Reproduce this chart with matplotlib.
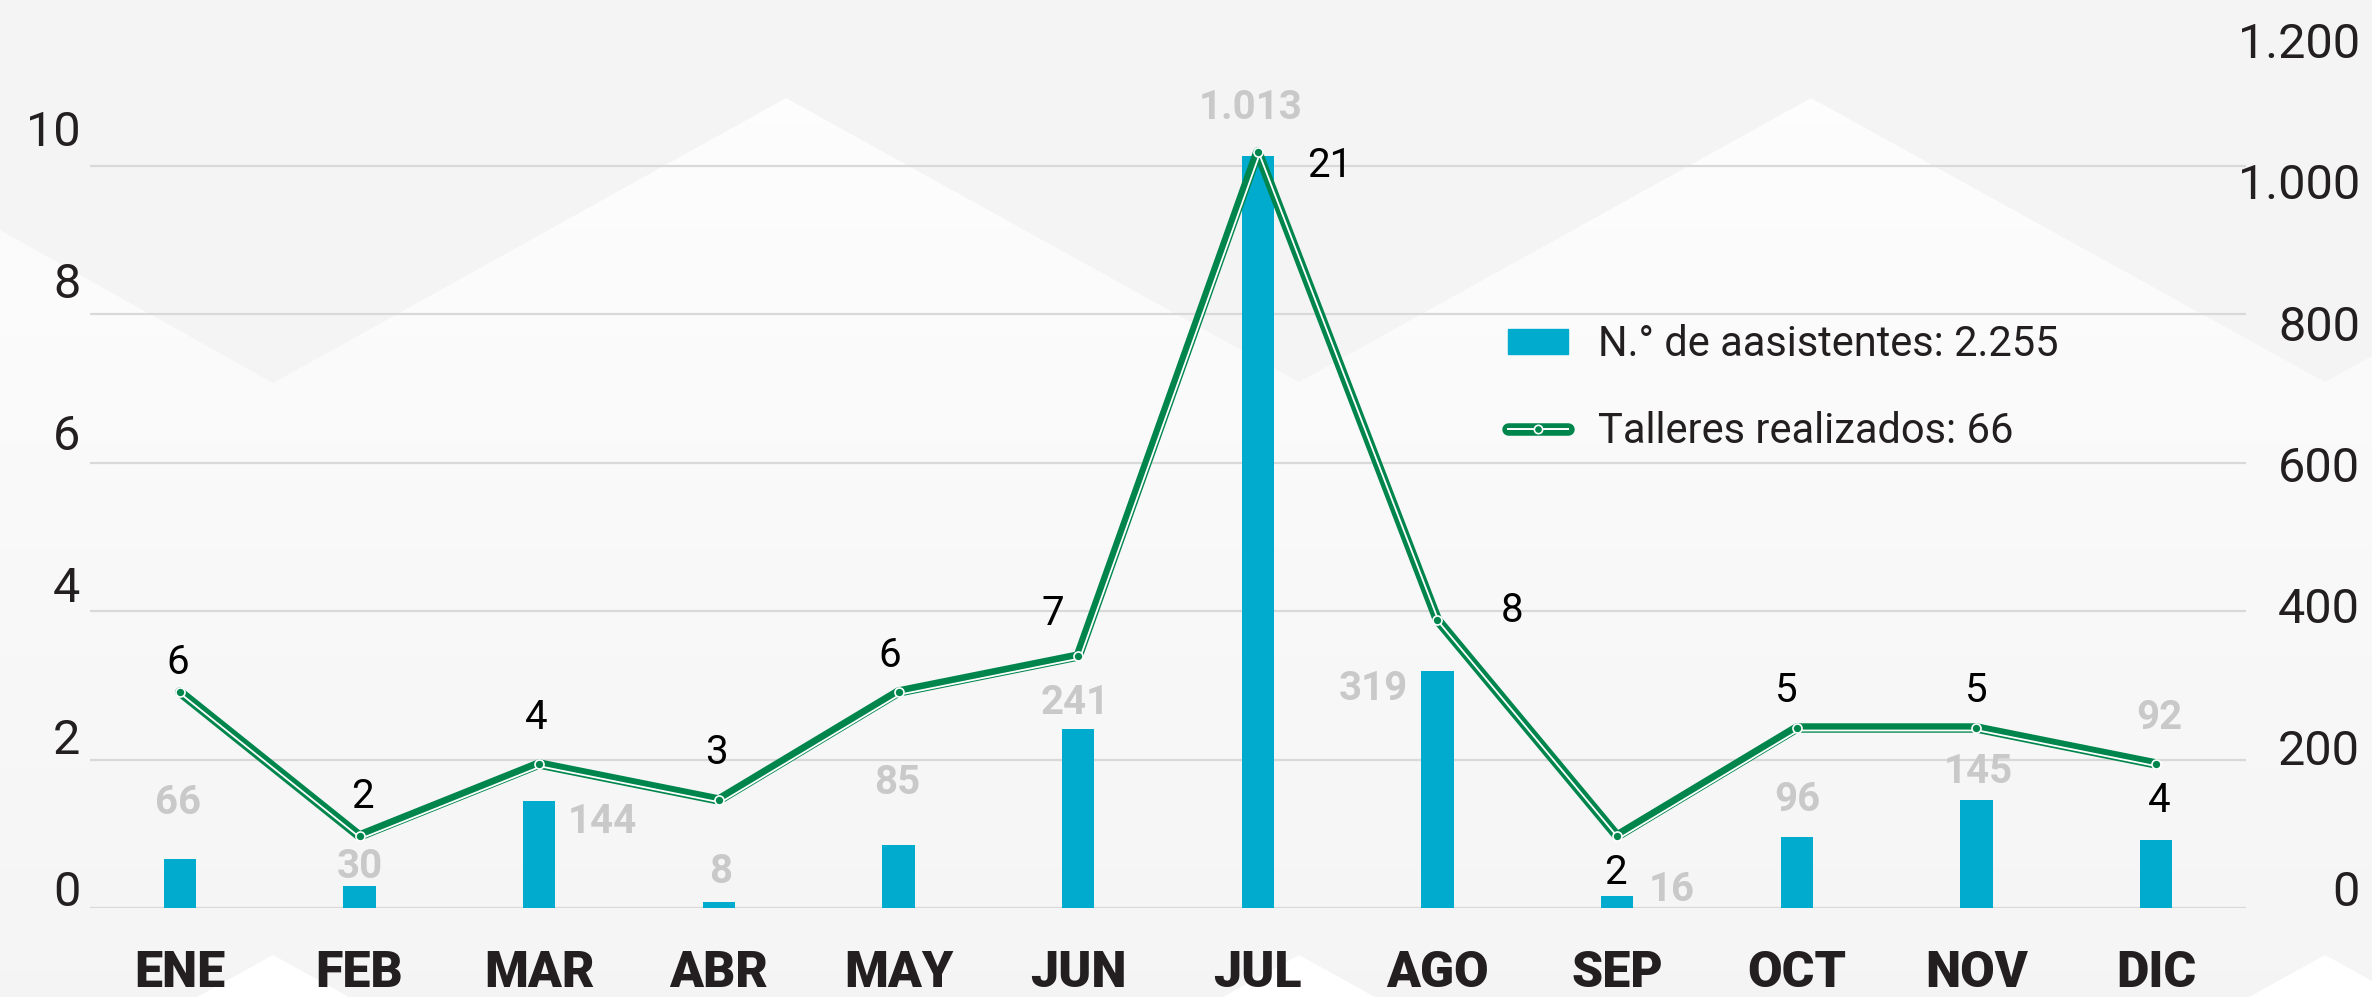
import matplotlib
matplotlib.use("Agg")
import matplotlib.pyplot as plt
import matplotlib.transforms as mtransforms
from matplotlib.patches import Polygon
from matplotlib.lines import Line2D
from matplotlib.legend_handler import HandlerTuple
import numpy as np

plt.rcParams['font.family'] = ['Roboto', 'DejaVu Sans']

# datos
meses = ['ENE', 'FEB', 'MAR', 'ABR', 'MAY', 'JUN', 'JUL', 'AGO', 'SEP', 'OCT', 'NOV', 'DIC']
asistentes = [66, 30, 144, 8, 85, 241, 1013, 319, 16, 96, 145, 92]
talleres = [6, 2, 4, 3, 6, 7, 21, 8, 2, 5, 5, 4]
ticks_izq = [0, 2, 4, 6, 8, 10]
ticks_der = [0, 200, 400, 600, 800, 1000, 1200]
leyenda = ['N.° de aasistentes: 2.255', 'Talleres realizados: 66']

# desplazamientos de las etiquetas (pixeles)
off_barras = [(-2, 56), (0, 19), (63, -21), (2, 30), (-1, 62), (-3, 26),
              (-7, 48), (-64, -18), (55, 6), (0, 37), (2, 28), (3, 122)]
off_linea = [(-2, 30), (3, 40), (-3, 47), (-2, 48), (-9, 37), (-25, 43),
             (72, -13), (75, 10), (-2, -36), (-11, 38), (0, 38), (3, -36)]

AZUL = '#00abcd'
VERDE = '#00864d'
GRIS_ETQ = '#c9c9c9'
NEGRO = '#231f20'

W, H = 2372, 997
fig = plt.figure(figsize=(W / 100, H / 100), dpi=100)
fig.patch.set_facecolor('#f4f4f4')

# fondo con montañas
bg = fig.add_axes([0, 0, 1, 1], zorder=-10)
bg.axis('off')
grad = np.linspace(0, 1, 256)
c0 = np.array([0.993, 0.993, 0.993])
c1 = np.array([0.960, 0.960, 0.960])
img = (c0[None, :] * (1 - grad[:, None]) + c1[None, :] * grad[:, None])[:, None, :]
zig = [(0, 230), (273, 383), (786, 98), (1299, 382), (1811, 98), (2325, 382),
       (W, 356), (W, H), (0, H)]
poly = Polygon(zig, closed=True, facecolor='none', edgecolor='none')
bg.add_patch(poly)
im = bg.imshow(img, extent=[0, W, H, 98], aspect='auto')
im.set_clip_path(poly)
for px in [273, 1299, 2325]:
    bg.add_patch(Polygon([(px - 76, H), (px, 955), (px + 76, H)], closed=True,
                         facecolor='white', edgecolor='none'))
bg.set_xlim(0, W)
bg.set_ylim(H, 0)

# eje principal (rejilla)
x = np.arange(len(meses))
pos = [90 / W, 1 - 908 / H, 2156 / W, 906 / H]
ax = fig.add_axes(pos)
ax.set_facecolor('none')
ax.set_xlim(-0.5, 11.5)
ax.set_ylim(0, 906 / 74.25)
ax.set_yticks(ticks_izq)
ax.yaxis.grid(True, color='#d9d9d9', lw=1.6)
ax.tick_params(axis='y', length=0, labelleft=False)
ax.set_xticks(x)
ax.set_xticklabels(meses, fontsize=36, fontweight='black', color=NEGRO)
ax.tick_params(axis='x', length=0, pad=30)
for s in ax.spines.values():
    s.set_visible(False)

# barras
axb = fig.add_axes(pos, sharex=ax)
axb.set_facecolor('none')
axb.set_ylim(0, 906 / 0.7424)
axb.bar(x, asistentes, width=0.18, color=AZUL, zorder=2)
axb.axis('off')
for i, v in enumerate(asistentes):
    axb.annotate(f'{v:,}'.replace(',', '.'), (x[i], v), xytext=off_barras[i],
                 textcoords='offset pixels', ha='center', va='center',
                 fontsize=29, fontweight='bold', color=GRIS_ETQ)

# linea
axl = fig.add_axes(pos, sharex=ax)
axl.set_facecolor('none')
axl.set_ylim(0, 906 / 36.0)
axl.axis('off')
ln_g, = axl.plot(x, talleres, color=VERDE, lw=6.8, solid_joinstyle='round',
                 solid_capstyle='round', zorder=3)
sh = mtransforms.offset_copy(axl.transData, fig=fig, x=1.2, y=-1.8, units='points')
ln_w, = axl.plot(x, talleres, color='white', lw=1.3, transform=sh, zorder=4)
ln_m, = axl.plot(x, talleres, ls='none', marker='o', ms=6.5, mfc=VERDE, mec='white',
                 mew=1.2, zorder=5)
for i, v in enumerate(talleres):
    axl.annotate(str(v), (x[i], v), xytext=off_linea[i], textcoords='offset pixels',
                 ha='center', va='center', fontsize=29, color='black')

# etiquetas del eje izquierdo
axi = fig.add_axes([90 / W, 1 - 888 / H, 2156 / W, 886 / H])
axi.patch.set_visible(False)
axi.set_ylim(0, 886 / 76.0)
axi.set_yticks(ticks_izq)
axi.set_yticklabels([str(t) for t in ticks_izq], fontsize=35, color=NEGRO)
axi.tick_params(axis='y', length=0, pad=7)
axi.set_xticks([])
for s in axi.spines.values():
    s.set_visible(False)

# etiquetas del eje derecho
axd = fig.add_axes([90 / W, 1 - 888 / H, 2156 / W, 886 / H])
axd.patch.set_visible(False)
axd.set_ylim(0, 886 / 0.7065)
axd.yaxis.tick_right()
axd.set_yticks(ticks_der)
axd.set_yticklabels([f'{t:,}'.replace(',', '.') for t in ticks_der], fontsize=35, color=NEGRO)
for lab in axd.get_yticklabels():
    lab.set_ha('right')
axd.tick_params(axis='y', length=0, pad=82)
axd.set_xticks([])
for s in axd.spines.values():
    s.set_visible(False)

# leyenda
hb = plt.Rectangle((0, 0), 1, 1, color=AZUL)
lg_g = Line2D([], [], color=VERDE, lw=9, solid_capstyle='round')
lg_w = Line2D([], [], color='white', lw=1.4)
lg_m = Line2D([], [], ls='none', marker='o', ms=6, mfc=VERDE, mec='white', mew=1.2)
leg = fig.legend([hb, (lg_g, lg_w, lg_m)], leyenda,
                 handler_map={tuple: HandlerTuple(ndivide=1, pad=0)},
                 loc='center left', bbox_to_anchor=(1508 / W, 1 - 388 / H),
                 frameon=False, fontsize=30, handlelength=1.45, handleheight=0.55,
                 handletextpad=0.7, labelspacing=1.1, borderpad=0, borderaxespad=0)
for t in leg.get_texts():
    t.set_color(NEGRO)

fig.savefig('out.png', dpi=100, facecolor=fig.get_facecolor())
